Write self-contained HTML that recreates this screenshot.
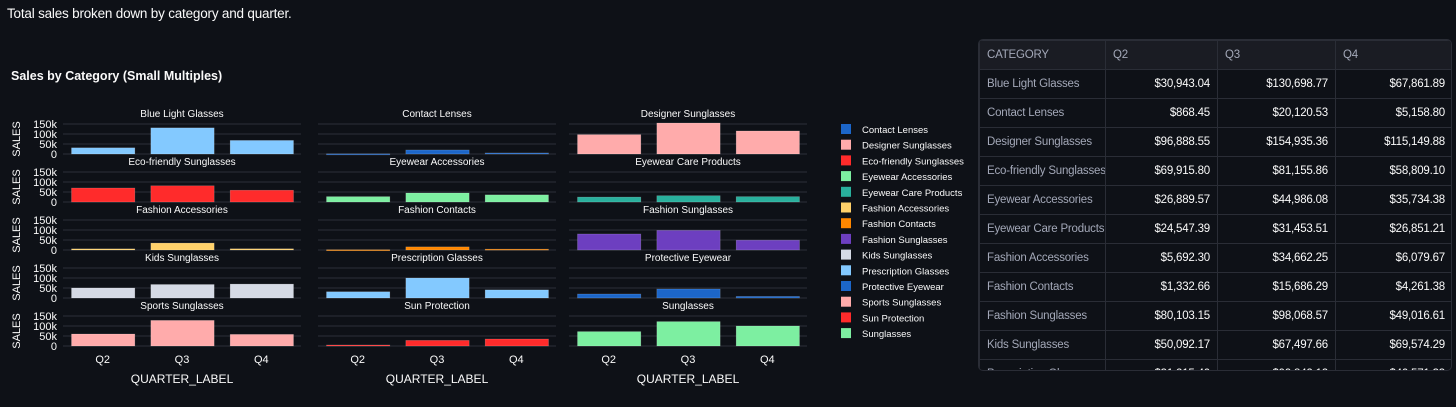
<!DOCTYPE html>
<html><head><meta charset="utf-8">
<style>
body{margin:0;background:#0e1117;width:1456px;height:407px;overflow:hidden;font-family:"Liberation Sans",sans-serif;color:#fafafa}
#cap{position:absolute;left:7px;top:6px;font-size:13.5px;letter-spacing:-0.2px}
#tbl{position:absolute;left:978px;top:39px;width:472px;height:330px;border:1px solid #2a2d36;border-radius:5px;overflow:hidden;background:#0e1117}
table{border-collapse:collapse;font-size:11.5px;width:473px;table-layout:fixed;letter-spacing:-0.2px}
td,th{border:1px solid #2a2d36;height:28px;padding:0 7px;white-space:nowrap;overflow:hidden}
th{background:#1a1c23;color:#a3a8b8;font-weight:normal;text-align:left}
td{text-align:right;color:#fafafa}
td.c{text-align:left;color:#a3a8b8}
svg{position:absolute;left:0;top:0}
</style></head><body>
<div id="cap">Total sales broken down by category and quarter.</div>
<svg id="chart" width="970" height="407"></svg>
<div id="tbl">
<table>
<colgroup><col style="width:126px"><col style="width:112px"><col style="width:118px"><col style="width:117px"></colgroup>
<tr><th>CATEGORY</th><th>Q2</th><th>Q3</th><th>Q4</th></tr>
<tr><td class="c">Blue Light Glasses</td><td>$30,943.04</td><td>$130,698.77</td><td>$67,861.89</td></tr>
<tr><td class="c">Contact Lenses</td><td>$868.45</td><td>$20,120.53</td><td>$5,158.80</td></tr>
<tr><td class="c">Designer Sunglasses</td><td>$96,888.55</td><td>$154,935.36</td><td>$115,149.88</td></tr>
<tr><td class="c">Eco-friendly Sunglasses</td><td>$69,915.80</td><td>$81,155.86</td><td>$58,809.10</td></tr>
<tr><td class="c">Eyewear Accessories</td><td>$26,889.57</td><td>$44,986.08</td><td>$35,734.38</td></tr>
<tr><td class="c">Eyewear Care Products</td><td>$24,547.39</td><td>$31,453.51</td><td>$26,851.21</td></tr>
<tr><td class="c">Fashion Accessories</td><td>$5,692.30</td><td>$34,662.25</td><td>$6,079.67</td></tr>
<tr><td class="c">Fashion Contacts</td><td>$1,332.66</td><td>$15,686.29</td><td>$4,261.38</td></tr>
<tr><td class="c">Fashion Sunglasses</td><td>$80,103.15</td><td>$98,068.57</td><td>$49,016.61</td></tr>
<tr><td class="c">Kids Sunglasses</td><td>$50,092.17</td><td>$67,497.66</td><td>$69,574.29</td></tr>
<tr><td class="c">Prescription Glasses</td><td>$31,215.40</td><td>$99,842.12</td><td>$40,571.33</td></tr>
</table></div>
<script>
const categories=["Blue Light Glasses","Contact Lenses","Designer Sunglasses","Eco-friendly Sunglasses","Eyewear Accessories","Eyewear Care Products","Fashion Accessories","Fashion Contacts","Fashion Sunglasses","Kids Sunglasses","Prescription Glasses","Protective Eyewear","Sports Sunglasses","Sun Protection","Sunglasses"];
const quarters=["Q2","Q3","Q4"];
const q2=[30943,868,96889,69916,26890,24547,5692,1333,80103,50092,31215,20000,60000,5000,72000];
const q3=[130699,20121,154935,81156,44986,31454,34662,15686,98069,67498,99842,45000,128000,28000,122000];
const q4=[67862,5159,115150,58809,35734,26851,6080,4261,49017,69574,40571,8000,58000,35000,100000];
const colors=["#83c9ff","#1c66c9","#ffabab","#ff2b2b","#7defa1","#29b09d","#ffd16a","#ff8700","#6d3fc0","#d5dae5","#83c9ff","#1c66c9","#ffabab","#ff2b2b","#7defa1"];
const yTicks=[0,50000,100000,150000];
const yTickLabels=["0","50k","100k","150k"];
const legendCats=categories.slice(1);
const legendColors=colors.slice(1);

const NS="http://www.w3.org/2000/svg";
const svg=document.getElementById('chart');
function mk(t,a,txt){const e=document.createElementNS(NS,t);for(const k in a)e.setAttribute(k,a[k]);if(txt!==undefined)e.textContent=txt;svg.appendChild(e);return e;}
const colX=[63,318,569],panelW=238,rowBase=[154,202,250,298,346],panelH=30,yMax=150000;
function yS(v,r){return rowBase[r]-v/yMax*panelH;}
function xS(i,c){return colX[c]+i*panelW/3;}
let t=mk('text',{x:11,y:80,'font-size':12.5,'font-weight':'bold',fill:'#fafafa'},'Sales by Category (Small Multiples)');


for(let r=0;r<5;r++){
  t=mk('text',{x:0,y:0,transform:`translate(20,${rowBase[r]-15}) rotate(-90)`,'text-anchor':'middle','font-size':11,fill:'#fafafa'},'SALES');
  
  
  yTicks.forEach((v,k)=>{
    t=mk('text',{x:57,y:yS(v,r)+4,'text-anchor':'end','font-size':11,fill:'#fafafa'},yTickLabels[k]);
    
    
  });
}
const series=[q2,q3,q4];
categories.forEach((cat,ci)=>{
  const r=Math.floor(ci/3),c=ci%3;
  yTicks.forEach(v=>{const l=mk('line',{x1:colX[c],x2:colX[c]+panelW,y1:yS(v,r),y2:yS(v,r),stroke:'#2c2f38','stroke-width':1});
    
    });
  t=mk('text',{x:colX[c]+panelW/2,y:rowBase[r]-37,'text-anchor':'middle','font-size':10,fill:'#fafafa'},cat);
  
  
  series.forEach((s,qi)=>{
    const v=s[ci],y=yS(v,r);
    const b=mk('rect',{x:xS(qi,c)+8.5,y:y,width:panelW/3-16,height:Math.max(rowBase[r]-y,1),fill:colors[ci],stroke:'rgba(255,255,255,0.25)','stroke-width':0.6});
    
    
  });
});
for(let c=0;c<3;c++){
  quarters.forEach((q,qi)=>{t=mk('text',{x:xS(qi,c)+panelW/6,y:363,'text-anchor':'middle','font-size':11,fill:'#fafafa'},q);
    
    });
  t=mk('text',{x:colX[c]+panelW/2,y:383,'text-anchor':'middle','font-size':12,fill:'#fafafa'},'QUARTER_LABEL');
  
  
}
legendCats.forEach((cat,i)=>{
  const y=124+i*15.7;
  const s=mk('rect',{x:841,y:y,width:10,height:10,fill:legendColors[i]});
  
  
  t=mk('text',{x:862,y:y+9,'font-size':9.5,fill:'#fafafa'},cat);
  
  
});
</script>
</body></html>
